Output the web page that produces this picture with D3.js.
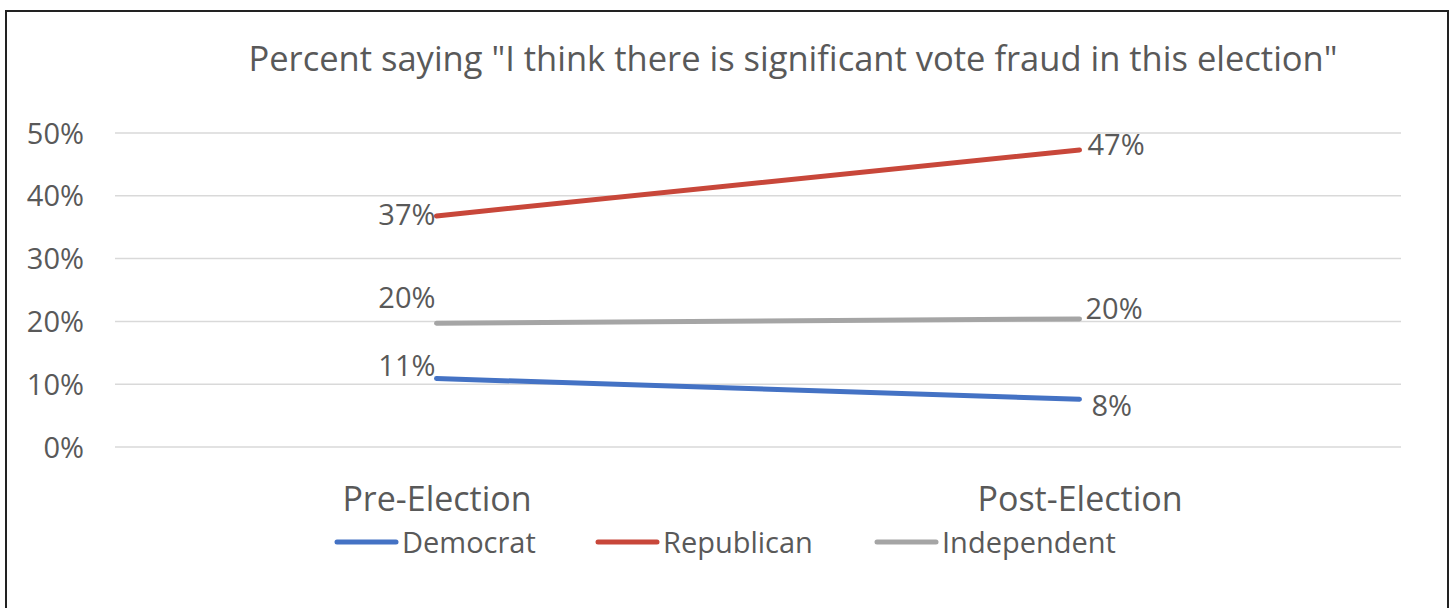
<!DOCTYPE html>
<html>
<head>
<meta charset="utf-8">
<script src="https://cdn.jsdelivr.net/npm/d3@7"></script>
<style>
  body { margin: 0; background: #fff; }
  svg text { font-family: "Open Sans", "Noto Sans", sans-serif; fill: #595959; }
</style>
</head>
<body>
<div class="chart"></div>
<script>
const categories = ["Pre-Election", "Post-Election"];
const seriesNames = ["Democrat", "Republican", "Independent"];
const democrat = [10.9, 7.6];
const republican = [36.8, 47.3];
const independent = [19.7, 20.4];
const yTicks = [0, 10, 20, 30, 40, 50];
const colors = ["#4472C4", "#C8473A", "#A5A5A5"];

const width = 1455, height = 608;
const series = [democrat, republican, independent];

const svg = d3.select(".chart").append("svg")
  .attr("width", width)
  .attr("height", height);

// frame
svg.append("rect")
  .attr("x", 6).attr("y", 11)
  .attr("width", 1442).attr("height", 620)
  .attr("fill", "none")
  .attr("stroke", "#222")
  .attr("stroke-width", 2);

const x = d3.scalePoint().domain(categories).range([115, 1401]).padding(0.5);
const y = d3.scaleLinear().domain([0, 50]).range([447, 133]);

// title
svg.append("text")
  .attr("x", 793).attr("y", 71)
  .attr("text-anchor", "middle")
  .style("font-size", "34.5px")
  .text('Percent saying "I think there is significant vote fraud in this election"');

// gridlines
svg.append("g").selectAll("line")
  .data(yTicks).enter().append("line")
  .attr("x1", 115).attr("x2", 1401)
  .attr("y1", d => y(d)).attr("y2", d => y(d))
  .attr("stroke", "#D9D9D9")
  .attr("stroke-width", 1.5);

// y axis labels
const yAxis = svg.append("g")
  .attr("transform", "translate(84,0)")
  .call(d3.axisLeft(y).tickValues(yTicks).tickFormat(d => d + "%").tickSize(0).tickPadding(0));
yAxis.select(".domain").remove();
yAxis.selectAll("text")
  .style("font-size", "29px")
  .attr("font-family", null)
  .attr("fill", null)
  .attr("dy", "0.35em");

// x axis labels
const xAxis = svg.append("g")
  .attr("transform", "translate(0,479)")
  .call(d3.axisBottom(x).tickSize(0).tickPadding(0));
xAxis.select(".domain").remove();
xAxis.selectAll("text")
  .style("font-size", "34px")
  .attr("font-family", null)
  .attr("fill", null)
  .attr("dy", "0.95em");

// lines
const line = d3.line().x((d, i) => x(categories[i])).y(d => y(d));
svg.append("g").selectAll("path")
  .data(series).enter().append("path")
  .attr("d", d => line(d))
  .attr("fill", "none")
  .attr("stroke", (d, i) => colors[i])
  .attr("stroke-width", 5)
  .attr("stroke-linecap", "round");

// data labels
const labelPos = [
  [{dx: -1, dy: -3, anchor: "end"}, {dx: 12, dy: 17, anchor: "start"}],
  [{dx: -1, dy: 9, anchor: "end"}, {dx: 8, dy: 5, anchor: "start"}],
  [{dx: -1, dy: -15, anchor: "end"}, {dx: 6, dy: 0, anchor: "start"}]
];
series.forEach((s, si) => {
  svg.append("g").selectAll("text")
    .data(s).enter().append("text")
    .attr("x", (d, i) => x(categories[i]) + labelPos[si][i].dx)
    .attr("y", (d, i) => y(d) + labelPos[si][i].dy)
    .attr("text-anchor", (d, i) => labelPos[si][i].anchor)
    .style("font-size", "29px")
    .text(d => Math.round(d) + "%");
});

// legend
const legendX = [337, 598, 877];
const legend = svg.append("g").selectAll("g")
  .data(seriesNames).enter().append("g")
  .attr("transform", (d, i) => `translate(${legendX[i]},542)`);
legend.append("line")
  .attr("x1", 0).attr("x2", 59)
  .attr("stroke", (d, i) => colors[i])
  .attr("stroke-width", 5)
  .attr("stroke-linecap", "round");
legend.append("text")
  .attr("x", 65).attr("y", 11)
  .style("font-size", "29px")
  .text(d => d);
</script>
</body>
</html>
